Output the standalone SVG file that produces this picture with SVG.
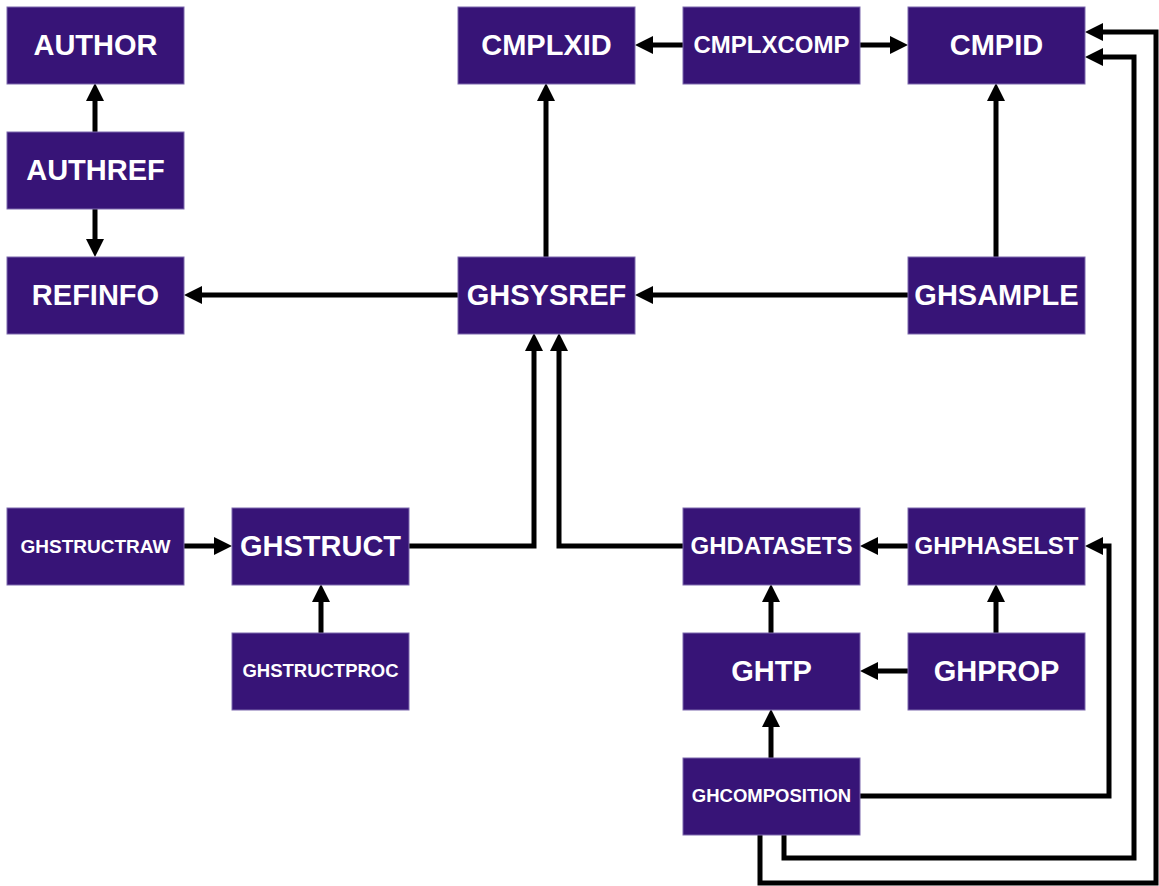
<svg xmlns="http://www.w3.org/2000/svg" width="1159" height="886" viewBox="0 0 1159 886">
<style>
.n rect{fill:#371477;stroke:#7c68ad;stroke-width:1}
.n text{fill:#ffffff;font-family:"Liberation Sans",Arial,sans-serif;font-weight:bold;text-anchor:middle}
.c path{fill:none;stroke:#000;stroke-width:5;stroke-linejoin:miter;marker-end:url(#ah)}
</style>
<defs>
<marker id="ah" markerUnits="userSpaceOnUse" viewBox="0 0 18 18" markerWidth="18" markerHeight="18" refX="6" refY="9" orient="auto">
<path d="M0,0 L18,9 L0,18 z" fill="#000"/>
</marker>
</defs>
<rect width="1159" height="886" fill="#fff"/>
<g class="c" id="connectors">
<path d="M95,132 V95"/>
<path d="M95,208 V245"/>
<path d="M458,295 H196"/>
<path d="M546,257 V95"/>
<path d="M683,45 H647"/>
<path d="M860,45 H896"/>
<path d="M996,257 V95"/>
<path d="M908,295 H647"/>
<path d="M184,546 H220"/>
<path d="M321,633 V596"/>
<path d="M409,546 H534 V345"/>
<path d="M683,546 H559 V345"/>
<path d="M908,546 H872"/>
<path d="M771,633 V596"/>
<path d="M996,633 V596"/>
<path d="M908,671 H872"/>
<path d="M771,758 V721"/>
<path d="M860,796 H1109 V546 H1097"/>
<path d="M784,834 V858 H1134 V57 H1097"/>
<path d="M760,834 V883 H1156 V32 H1097"/>
</g>
<g class="n" id="AUTHOR"><rect x="7" y="7" width="177" height="77"/><text x="95.5" y="54.5" font-size="29">AUTHOR</text></g>
<g class="n" id="AUTHREF"><rect x="7" y="132" width="177" height="77"/><text x="95.5" y="179.5" font-size="29">AUTHREF</text></g>
<g class="n" id="REFINFO"><rect x="7" y="257" width="177" height="77"/><text x="95.5" y="304.5" font-size="29">REFINFO</text></g>
<g class="n" id="CMPLXID"><rect x="458" y="7" width="177" height="77"/><text x="546.5" y="54.5" font-size="29">CMPLXID</text></g>
<g class="n" id="CMPLXCOMP"><rect x="683" y="7" width="177" height="77"/><text x="771.5" y="52.5" font-size="24">CMPLXCOMP</text></g>
<g class="n" id="CMPID"><rect x="908" y="7" width="177" height="77"/><text x="996.5" y="54.5" font-size="29">CMPID</text></g>
<g class="n" id="GHSYSREF"><rect x="458" y="257" width="177" height="77"/><text x="546.5" y="304.5" font-size="29">GHSYSREF</text></g>
<g class="n" id="GHSAMPLE"><rect x="908" y="257" width="177" height="77"/><text x="996.5" y="304.5" font-size="29">GHSAMPLE</text></g>
<g class="n" id="GHSTRUCTRAW"><rect x="7" y="508" width="177" height="77"/><text x="95.5" y="552.5" font-size="19">GHSTRUCTRAW</text></g>
<g class="n" id="GHSTRUCT"><rect x="232" y="508" width="177" height="77"/><text x="320.5" y="555.5" font-size="29">GHSTRUCT</text></g>
<g class="n" id="GHSTRUCTPROC"><rect x="232" y="633" width="177" height="77"/><text x="320.5" y="676.5" font-size="18.5">GHSTRUCTPROC</text></g>
<g class="n" id="GHDATASETS"><rect x="683" y="508" width="177" height="77"/><text x="771.5" y="553.5" font-size="24">GHDATASETS</text></g>
<g class="n" id="GHPHASELST"><rect x="908" y="508" width="177" height="77"/><text x="996.5" y="553.5" font-size="24">GHPHASELST</text></g>
<g class="n" id="GHTP"><rect x="683" y="633" width="177" height="77"/><text x="771.5" y="680.5" font-size="29">GHTP</text></g>
<g class="n" id="GHPROP"><rect x="908" y="633" width="177" height="77"/><text x="996.5" y="680.5" font-size="29">GHPROP</text></g>
<g class="n" id="GHCOMPOSITION"><rect x="683" y="758" width="177" height="77"/><text x="771.5" y="801.5" font-size="18.5">GHCOMPOSITION</text></g>
</svg>
